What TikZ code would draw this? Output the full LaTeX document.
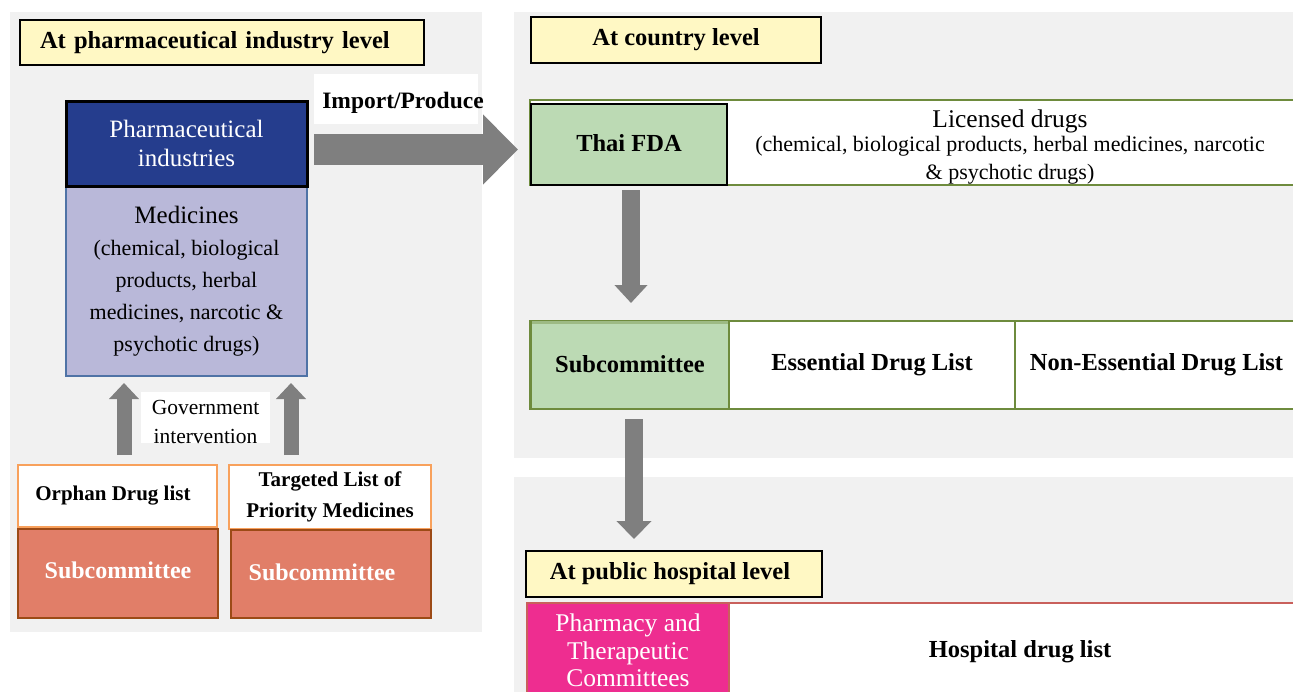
\documentclass[tikz,border=0pt]{standalone}
\usepackage{fontspec}
\setmainfont{Liberation Serif}
\usetikzlibrary{arrows.meta,calc}
\definecolor{panel}{HTML}{F1F1F1}
\definecolor{hdryellow}{HTML}{FFF8C4}
\definecolor{pharmblue}{HTML}{253D8D}
\definecolor{lavender}{HTML}{B9B8D9}
\definecolor{lavedge}{HTML}{4F73A6}
\definecolor{salmon}{HTML}{E17E68}
\definecolor{salmonedge}{HTML}{9C4A16}
\definecolor{orangeedge}{HTML}{F8A15C}
\definecolor{fdagreen}{HTML}{BCDAB4}
\definecolor{olive}{HTML}{6E8B3D}
\definecolor{pink}{HTML}{EE2D90}
\definecolor{hospred}{HTML}{C9605C}
\definecolor{arrowgray}{HTML}{7F7F7F}
\newcommand{\myfs}[2]{\fontsize{#1}{#2}\selectfont}
\begin{document}
\begin{tikzpicture}[x=1pt,y=-1pt,
  panelbox/.style={fill=panel, draw=none, inner sep=0pt},
  hdr/.style={draw=black, line width=2.5pt, fill=hdryellow, inner sep=0pt, font=\myfs{24.5}{29}\bfseries},
  plain/.style={inner sep=0pt, align=center},
  whitebox/.style={fill=white, draw=none, inner sep=0pt},
  listbox/.style={draw=orangeedge, line width=2.5pt, fill=white, inner sep=0pt, align=center, font=\myfs{21}{31}\bfseries},
  subbox/.style={draw=salmonedge, line width=2pt, fill=salmon, inner sep=0pt, text=white, font=\myfs{24}{29}\bfseries},
  rowbox/.style={draw=olive, line width=2pt, fill=white, inner sep=0pt},
  cell/.style={draw=olive, line width=2pt, inner sep=0pt, font=\myfs{24.5}{29}\bfseries},
  blockarrow/.style={draw=arrowgray, line width=#1},
]
\useasboundingbox (0,0) rectangle (1293,691);

% panels
\node[panelbox, minimum width=472pt, minimum height=620pt] (lpanel) at (246,322) {};
\node[panelbox, minimum width=779pt, minimum height=446pt] (rpanel) at (903.5,235) {};
\node[panelbox, minimum width=779pt, minimum height=220pt] (hpanel) at (903.5,587) {};

% ---------- left: pharmaceutical industry level
\node[hdr, minimum width=404pt, minimum height=45pt, text width=364pt, align=left, inner xsep=20pt] (hdr1) at (222,42.5) {At pharmaceutical industry level};

\node[draw=lavedge, line width=1.5pt, fill=lavender, minimum width=241pt, minimum height=190pt, inner sep=0pt] (meds) at (186.5,281) {};
\node[plain, font=\myfs{22}{32}] (medstext) at (186.5,281) {{\myfs{25}{32}Medicines}\\(chemical, biological\\products, herbal\\medicines, narcotic \&\\psychotic drugs)};
\node[draw=black, line width=3pt, fill=pharmblue, minimum width=241pt, minimum height=85pt, inner sep=0pt, text=white, align=center, font=\myfs{25}{29}] (pharm) at (186.5,143.5) {\raisebox{-2pt}{Pharmaceutical}\\\raisebox{-2pt}{industries}};

\node[whitebox, minimum width=164pt, minimum height=50pt] (impbox) at (396,99) {};
\node[plain, font=\myfs{23.5}{28}\bfseries] (imp) at (403,103) {Import/Produce};

\node[whitebox, minimum width=129pt, minimum height=51pt] (govbox) at (205.5,417.5) {};
\node[plain, font=\myfs{21.5}{29}] (gov) at (205.5,422) {Government\\intervention};

\node[listbox, minimum width=199pt, minimum height=62pt] (orphan) at (117.5,496) {\hspace*{-9pt}Orphan Drug list};
\node[listbox, minimum width=202pt, minimum height=64pt] (target) at (330,497) {Targeted List of\\Priority Medicines};
\node[subbox, minimum width=200pt, minimum height=89pt] (sub1) at (118,573.5) {\raisebox{6pt}{Subcommittee}};
\node[subbox, minimum width=200pt, minimum height=88pt] (sub2) at (331,574) {\hspace*{-18pt}\raisebox{4pt}{Subcommittee}};

% up arrows (government intervention)
\coordinate (ua1s) at (124,455);
\coordinate (ua1e) at (124,383);
\coordinate (ua2s) at (291,455);
\coordinate (ua2e) at (291,383);
\draw[blockarrow=15pt, -{Triangle[length=16pt,width=29pt]}] (ua1s) -- (ua1e);
\draw[blockarrow=15pt, -{Triangle[length=16pt,width=29pt]}] (ua2s) -- (ua2e);

% ---------- right: country level
\node[hdr, minimum width=290pt, minimum height=46pt] (hdr2) at (676,40) {\raisebox{-2pt}{At country level}};

\node[rowbox, minimum width=770pt, minimum height=85pt] (fdarow) at (915,142.5) {};
\node[whitebox, minimum width=542pt, minimum height=77pt] (licbox) at (1011,145.5) {};
\node[plain, font=\myfs{22}{28}] (lic) at (1010,147) {{\myfs{25.5}{28}Licensed drugs}\\[-4pt](chemical, biological products, herbal medicines, narcotic\\\& psychotic drugs)};
\node[draw=black, line width=2.5pt, fill=fdagreen, minimum width=196pt, minimum height=81pt, inner sep=0pt, font=\myfs{24.5}{29}\bfseries] (fda) at (629,144.5) {\raisebox{3pt}{Thai FDA}};

\coordinate (da1s) at (631,190);
\coordinate (da1e) at (631,303);
\draw[blockarrow=18pt, -{Triangle[length=18pt,width=32pt]}] (da1s) -- (da1e);

\node[rowbox, minimum width=770pt, minimum height=88pt] (subrow) at (915,365) {};
\node[cell, fill=fdagreen, minimum width=198pt, minimum height=88pt] (subc) at (630,365) {\raisebox{3pt}{Subcommittee}};
\draw[draw=fdagreen!60!olive, line width=3pt] ($(subc.north west)+(2,2)$) -- ($(subc.north east)+(-2,2)$);
\node[cell, fill=white, minimum width=286pt, minimum height=88pt] (ess) at (872,365) {\raisebox{3pt}{Essential Drug List}};
\node[cell, fill=white, minimum width=283pt, minimum height=88pt] (noness) at (1156.5,365) {\raisebox{3pt}{Non-Essential Drug List}};

\coordinate (da2s) at (634,419);
\coordinate (da2e) at (634,539);
\draw[blockarrow=18pt, -{Triangle[length=18pt,width=34pt]}] (da2s) -- (da2e);

% ---------- public hospital level
\node[hdr, minimum width=296pt, minimum height=46pt] (hdr3) at (674,574) {\hspace*{-8pt}At public hospital level};
\node[draw=hospred, line width=1.5pt, fill=white, minimum width=773pt, minimum height=97pt, inner sep=0pt] (hosprow) at (913.5,651.5) {};
\node[draw=hospred, line width=1.5pt, fill=pink, minimum width=202pt, minimum height=97pt, inner sep=0pt] (ptc) at (628,651.5) {};
\node[plain, text=white, font=\myfs{25.5}{27.5}] (ptctext) at (628,650.5) {Pharmacy and\\Therapeutic\\Committees};
\node[plain, font=\myfs{24.5}{29}\bfseries] (hdl) at (1020,652) {Hospital drug list};

% big arrow import/produce
\coordinate (ra_s) at (314,149.5);
\coordinate (ra_e) at (518,149.5);
\draw[blockarrow=31pt, -{Triangle[length=35pt,width=68pt]}] (ra_s) -- (ra_e);
\end{tikzpicture}
\end{document}
